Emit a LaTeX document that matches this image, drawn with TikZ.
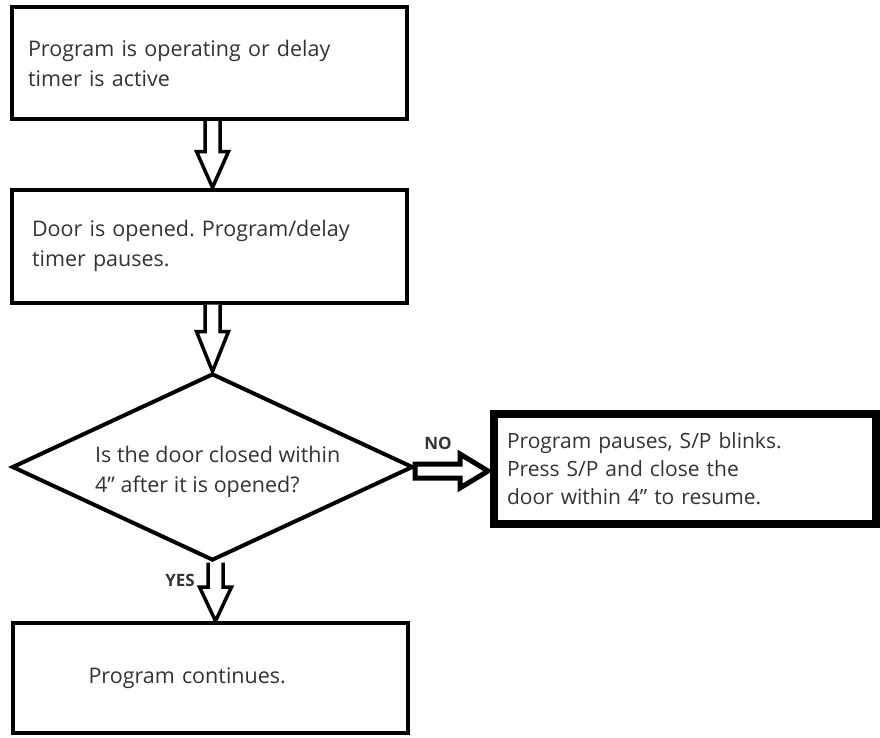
\documentclass[tikz,border=0pt]{standalone}
\usepackage{fontspec}
\setmainfont{Open Sans}
\usetikzlibrary{calc,shapes.geometric}
\definecolor{txt}{HTML}{333333}
\frenchspacing
\begin{document}
\begin{tikzpicture}[x=1pt,y=-1pt,
  procbox/.style={draw=black,line width=4pt,rectangle,minimum width=395pt,
    align=left,text=txt,font=\fontsize{21.5}{30}\selectfont,inner ysep=0pt},
  blk/.style={draw=black,fill=white,line width=3.5pt,line join=miter,miter limit=4},
  lbl/.style={text=txt,font=\bfseries\fontsize{17}{17}\selectfont,inner sep=0pt}]
\useasboundingbox (0,0) rectangle (880,737);

\node[procbox,minimum height=112pt,inner xsep=16pt,text width=363pt] (b1) at (209.5,63)
  {Program is operating or delay\\timer is active};
\node[procbox,minimum height=113pt,inner xsep=20pt,text width=355pt] (b2) at (209.5,246)
  {Door is opened. Program/delay\\timer pauses.};
\node[draw=black,diamond,line width=4pt,aspect=2.14,minimum width=401pt,
  minimum height=187pt,inner sep=0pt] (dia) at (212.5,467) {};
\node[anchor=west,align=left,text=txt,font=\fontsize{21.5}{30}\selectfont,inner sep=0pt]
  (dtext) at (95,472) {Is the door closed within\\4" after it is opened?};
\node[procbox,line width=8pt,minimum width=382pt,minimum height=110pt,
  inner xsep=13pt,text width=356pt,font=\fontsize{21}{28}\selectfont] (b3) at (685,469)
  {Program pauses, S/P blinks.\\Press S/P and close the\\door within 4" to resume.};
\node[procbox,minimum height=110pt,inner xsep=76pt,text width=243pt] (b4) at (210,678)
  {Program continues.};

\foreach \a/\b/\hl in {b1/b2/36pt,b2/dia/40pt,dia/b4/34pt}{
  \draw[blk] let \p1=(\a.south), \p2=(\b.north) in
    (\x1+3pt-7.5pt,\y1) -- (\x1+3pt-7.5pt,\y2+\hl) -- (\x1+3pt-16pt,\y2+\hl)
    -- (\x1+3pt,\y2) -- (\x1+3pt+16pt,\y2+\hl) -- (\x1+3pt+7.5pt,\y2+\hl)
    -- (\x1+3pt+7.5pt,\y1);
}
\draw[blk,line width=5pt] let \p1=(dia.east), \p2=(b3.west) in
  (\x1,\y1-4pt+7pt) -- (\x2-30pt,\y1-4pt+7pt) -- (\x2-30pt,\y1-4pt+17pt)
  -- (\x2-2pt,\y1-4pt) -- (\x2-30pt,\y1-4pt-17pt) -- (\x2-30pt,\y1-4pt-7pt)
  -- (\x1,\y1-4pt-7pt) -- cycle;

\node[lbl] (no) at (438,443) {NO};
\node[lbl] (yes) at (180,580) {YES};
\end{tikzpicture}
\end{document}
